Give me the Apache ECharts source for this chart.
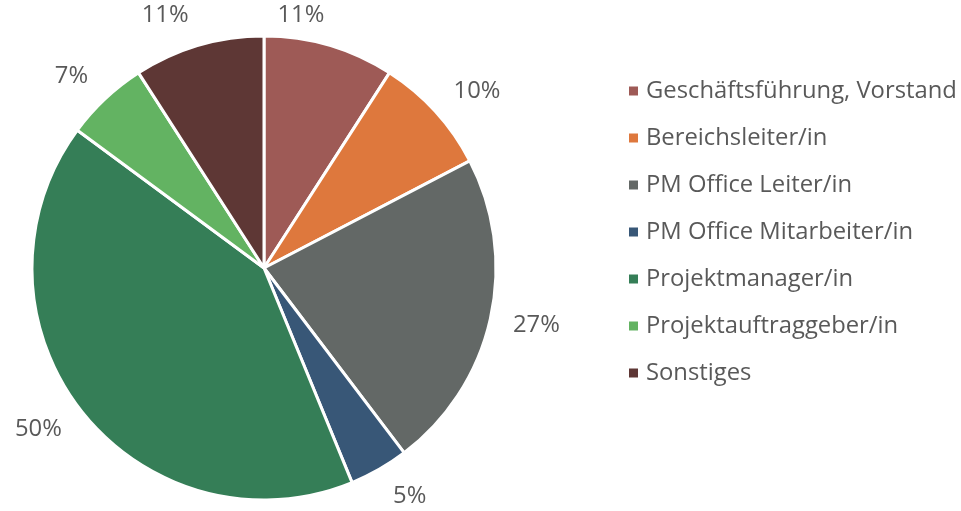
<!DOCTYPE html>
<html>
<head>
<meta charset="utf-8">
<script src="https://cdn.jsdelivr.net/npm/echarts@6/dist/echarts.min.js"></script>
<style>
  html, body { margin: 0; padding: 0; background: #fff; }
  #chart { width: 961px; height: 511px; }
</style>
</head>
<body>
<div id="chart"></div>
<script>
// Rollen der Befragten
const categories = ['Geschäftsführung, Vorstand', 'Bereichsleiter/in', 'PM Office Leiter/in',
  'PM Office Mitarbeiter/in', 'Projektmanager/in', 'Projektauftraggeber/in', 'Sonstiges'];
const values = [11, 10, 27, 5, 50, 7, 11];
const colors = ['#9E5A56', '#DE783D', '#636866', '#385777', '#357E57', '#63B362', '#5E3735'];

const pieCenter = [264, 268];

const chart = echarts.init(document.getElementById('chart'));

chart.setOption({
  animation: false,
  textStyle: { fontFamily: 'Open Sans' },
  legend: {
    orient: 'vertical',
    left: 622,
    top: 74,
    itemWidth: 11,
    itemHeight: 11,
    itemGap: 23,
    icon: 'rect',
    textStyle: { fontSize: 23.8, color: '#595959', fontFamily: 'Open Sans', padding: [0, 0, 0, 2] },
    data: categories
  },
  series: [{
    type: 'pie',
    center: pieCenter,
    radius: 232,
    startAngle: 90,
    clockwise: true,
    avoidLabelOverlap: false,
    itemStyle: { borderColor: '#fff', borderWidth: 3 },
    color: colors,
    label: {
      show: true,
      position: 'outside',
      formatter: '{c}%',
      fontSize: 23.8,
      color: '#595959',
      fontFamily: 'Open Sans'
    },
    labelLine: { show: false, length: 18, length2: 0 },
    // Excel-artige Platzierung: Beschriftung mit dem Rand, nicht der Mitte, an den Kreis setzen
    labelLayout: function (params) {
      const r = params.labelRect;
      const mx = r.x + r.width / 2 - pieCenter[0];
      const my = r.y + r.height / 2 - pieCenter[1];
      const len = Math.sqrt(mx * mx + my * my) || 1;
      const out = { dy: (my / len) * 14 };
      if (params.dataIndex === 0) out.dx = -62;
      return out;
    },
    emphasis: { disabled: true },
    data: categories.map((name, i) => ({ name: name, value: values[i] }))
  }]
});
</script>
</body>
</html>
